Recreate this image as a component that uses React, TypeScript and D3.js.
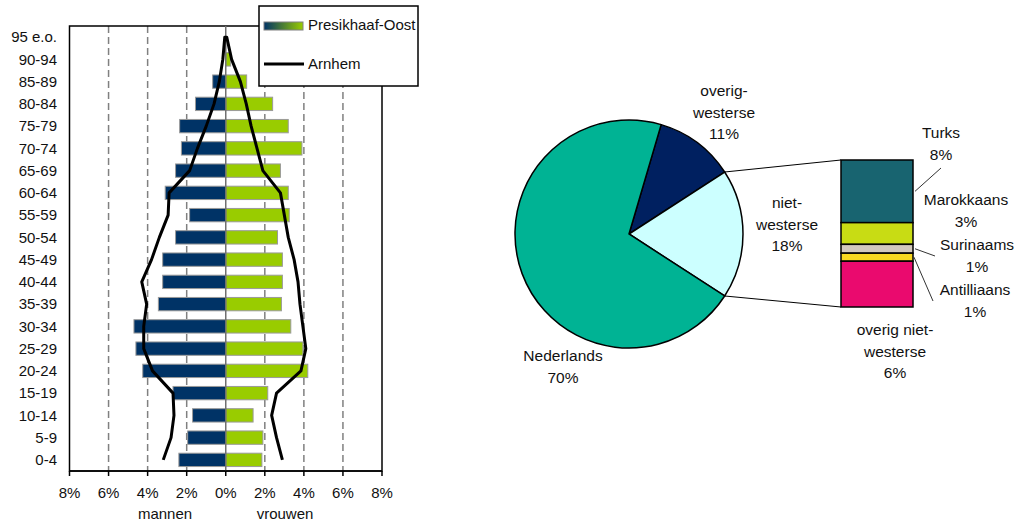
import React from "react";
import * as d3 from "d3";

// age pyramid, Presikhaaf-Oost bars vs Arnhem outline (percent of population)
const ageGroups = ["0-4", "5-9", "10-14", "15-19", "20-24", "25-29", "30-34", "35-39", "40-44", "45-49",
  "50-54", "55-59", "60-64", "65-69", "70-74", "75-79", "80-84", "85-89", "90-94", "95 e.o."];
const menPresikhaaf = [2.4, 1.95, 1.7, 2.7, 4.25, 4.6, 4.7, 3.45, 3.23, 3.23, 2.57, 1.85, 3.1, 2.57, 2.27, 2.36, 1.55, 0.67, 0, 0];
const womenPresikhaaf = [1.85, 1.9, 1.4, 2.15, 4.2, 3.95, 3.33, 2.85, 2.9, 2.9, 2.65, 3.25, 3.2, 2.8, 3.9, 3.2, 2.4, 1.07, 0.25, 0];
const menArnhem = [3.2, 2.8, 2.65, 2.7, 3.75, 4.2, 4.2, 4.05, 4.3, 3.8, 3.4, 2.95, 2.9, 1.85, 1.45, 1.0, 0.6, 0.33, 0.15, 0.05];
const womenArnhem = [2.9, 2.6, 2.35, 2.6, 3.85, 4.1, 3.95, 3.8, 3.7, 3.5, 3.2, 3.0, 2.8, 1.9, 1.6, 1.3, 1.05, 0.75, 0.3, 0.05];
const xTicks = [-8, -6, -4, -2, 0, 2, 4, 6, 8];

// origin pie + breakdown of niet-westerse
const pieLabels = ["overig-westerse", "niet-westerse", "Nederlands"];
const pieValues = [11.3, 18.3, 70.4];
const pieColors = ["#002060", "#CCFFFF", "#00B394"];
const subLabels = ["Turks", "Marokkaans", "Surinaams", "Antilliaans", "overig niet-westerse"];
const subValues = [7.8, 2.7, 1.1, 1.0, 5.7];
const subColors = ["#186470", "#C8DC14", "#D2C8BC", "#F8D820", "#EA0A6E"];

const W = 1017;
const H = 521;
const font = "'Liberation Sans', Arial, sans-serif";

function Pyramid() {
  const top = 26, bottom = 471, left = 69.5, right = 382;
  const x = d3.scaleLinear().domain([-8, 8]).range([left, right]);
  const y = d3.scaleBand<string>().domain(ageGroups).range([bottom, top]).paddingInner(0.4).paddingOuter(0.2);
  const bw = y.bandwidth();
  const cy = (i: number) => (y(ageGroups[i]) as number) + bw / 2;

  // one outline: up the men's side, down the women's side
  const pts: [number, number][] = [
    ...menArnhem.map((v, i) => [x(-v), cy(i)] as [number, number]),
    ...womenArnhem.map((v, i) => [x(v), cy(i)] as [number, number]).reverse(),
  ];
  const line = d3.line();

  return (
    <g>
      <defs>
        <linearGradient id="lg" x1="0" x2="1" y1="0" y2="0">
          <stop offset="0" stopColor="#003366" />
          <stop offset="1" stopColor="#99CC00" />
        </linearGradient>
      </defs>
      {xTicks.filter(t => t !== 0 && Math.abs(t) !== 8).map(t => (
        <line key={t} x1={x(t)} x2={x(t)} y1={top} y2={bottom} stroke="#808080" strokeWidth={1.5} strokeDasharray="7,4" />
      ))}
      <rect x={left} y={top} width={right - left} height={bottom - top} fill="none" stroke="#000" strokeWidth={1.5} />
      {menPresikhaaf.map((v, i) => v > 0 && (
        <rect key={"m" + i} x={x(-v)} y={y(ageGroups[i])} width={x(0) - x(-v)} height={bw} fill="#003366" stroke="#9a9a9a" strokeWidth={1} />
      ))}
      {womenPresikhaaf.map((v, i) => v > 0 && (
        <rect key={"w" + i} x={x(0)} y={y(ageGroups[i])} width={x(v) - x(0)} height={bw} fill="#99CC00" stroke="#9a9a9a" strokeWidth={1} />
      ))}
      <line x1={x(0)} x2={x(0)} y1={top} y2={bottom} stroke="#707070" strokeWidth={1.5} />
      <path d={line(pts) ?? ""} fill="none" stroke="#000" strokeWidth={3} strokeLinejoin="round" />
      <line x1={left} x2={right} y1={bottom} y2={bottom} stroke="#000" strokeWidth={1.5} />
      {xTicks.map(t => (
        <g key={t}>
          <line x1={x(t)} x2={x(t)} y1={bottom} y2={bottom + 5} stroke="#000" strokeWidth={1.5} />
          <text x={x(t)} y={bottom + 22} dy="0.35em" textAnchor="middle">{Math.abs(t)}%</text>
        </g>
      ))}
      {ageGroups.map((g, i) => (
        <text key={g} x={57} y={cy(i)} dy="0.35em" textAnchor="end">{g}</text>
      ))}
      <text x={165} y={514} dy="0.35em" textAnchor="middle">mannen</text>
      <text x={285} y={514} dy="0.35em" textAnchor="middle">vrouwen</text>
      {/* legend */}
      <rect x={259} y={6} width={159} height={80} fill="#fff" stroke="#000" strokeWidth={1.5} />
      <rect x={264} y={22} width={39} height={8} fill="url(#lg)" stroke="#808080" strokeWidth={1} />
      <text x={308} y={25} dy="0.35em">Presikhaaf-Oost</text>
      <line x1={264} x2={304} y1={64} y2={64} stroke="#000" strokeWidth={3} />
      <text x={308} y={64} dy="0.35em">Arnhem</text>
    </g>
  );
}

function MultiLine({ x, y, lines }: { x: number; y: number; lines: string[] }) {
  return (
    <text x={x} y={y} textAnchor="middle" fontSize={15.5}>
      {lines.map((l, i) => (
        <tspan key={i} x={x} y={y + i * 21.5} dy="0.35em">{l}</tspan>
      ))}
    </text>
  );
}

function PieOfBar() {
  const cx = 629, cy = 234, r = 114;
  const total = d3.sum(pieValues);
  const tau = Math.PI * 2;
  // niet-westerse slice centred on 3 o'clock, facing the bar
  const start = Math.PI / 2 - ((pieValues[1] / 2 + pieValues[0]) / total) * tau;
  const arcs = d3.pie<number>().sort(null).startAngle(start).endAngle(start + tau)(pieValues);
  const arc = d3.arc<d3.PieArcDatum<number>>().innerRadius(0).outerRadius(r);

  const niet = arcs[1];
  const ptAt = (a: number) => [cx + r * Math.sin(a), cy - r * Math.cos(a)];
  const [ax, ay] = ptAt(niet.startAngle);
  const [bx, by] = ptAt(niet.endAngle);

  const barX = 841, barW = 72, barTop = 160, barBottom = 307;
  const ys = d3.scaleLinear().domain([0, d3.sum(subValues)]).range([barTop, barBottom]);
  const cum = subValues.map((_, i) => d3.sum(subValues.slice(0, i)));
  const mid = (i: number) => ys(cum[i] + subValues[i] / 2);
  const pct = (v: number) => `${Math.round(v)}%`;
  const rr = barX + barW;

  return (
    <g>
      {arcs.map((a, i) => (
        <path key={pieLabels[i]} d={arc(a) ?? ""} transform={`translate(${cx},${cy})`} fill={pieColors[i]} stroke="#000" strokeWidth={1.5} />
      ))}
      <line x1={ax} y1={ay} x2={barX} y2={barTop} stroke="#000" strokeWidth={1} />
      <line x1={bx} y1={by} x2={barX} y2={barBottom} stroke="#000" strokeWidth={1} />
      {subValues.map((v, i) => (
        <rect key={subLabels[i]} x={barX} y={ys(cum[i])} width={barW} height={ys(cum[i] + v) - ys(cum[i])} fill={subColors[i]} stroke="#000" strokeWidth={1.5} />
      ))}
      <MultiLine x={cx + 95} y={91} lines={["overig-", "westerse", pct(pieValues[0])]} />
      <MultiLine x={cx + 158} y={203} lines={["niet-", "westerse", pct(pieValues[1])]} />
      <MultiLine x={cx - 66} y={356} lines={["Nederlands", pct(pieValues[2])]} />
      <MultiLine x={941} y={133} lines={[subLabels[0], pct(subValues[0])]} />
      <MultiLine x={966} y={200} lines={[subLabels[1], pct(subValues[1])]} />
      <MultiLine x={977} y={245} lines={[subLabels[2], pct(subValues[2])]} />
      <MultiLine x={975} y={290} lines={[subLabels[3], pct(subValues[3])]} />
      <MultiLine x={895} y={330} lines={["overig niet-", "westerse", pct(subValues[4])]} />
      <line x1={rr + 2} y1={mid(0)} x2={rr + 28} y2={168} stroke="#333" strokeWidth={1} />
      <line x1={rr + 2} y1={mid(2)} x2={rr + 22} y2={256} stroke="#333" strokeWidth={1} />
      <line x1={rr + 1} y1={mid(3)} x2={rr + 20} y2={301} stroke="#333" strokeWidth={1} />
    </g>
  );
}

export default function App() {
  return (
    <svg width={W} height={H} style={{ position: "absolute", left: 0, top: 0, background: "#fff" }}
      fontFamily={font} fontSize={15} fill="#111">
      <Pyramid />
      <PieOfBar />
    </svg>
  );
}
